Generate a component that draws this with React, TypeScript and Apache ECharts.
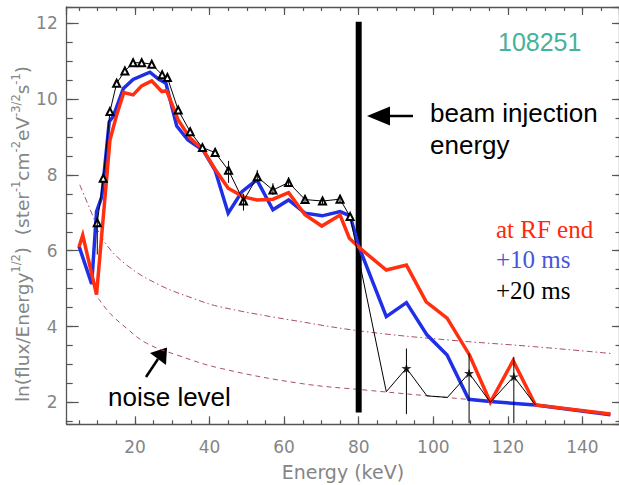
import React, { useEffect, useRef } from 'react';
import * as echarts from 'echarts';

// ---- axis ranges / ticks ----
const X_MIN = 1.7;
const X_MAX = 149.8;
const Y_MIN = 1.42;
const Y_MAX = 12.43;
const X_MAJOR = 20;
const X_MINOR = 5;
const Y_MAJOR = 2;
const Y_MINOR = 0.5;

// ---- at RF end (red) ----
const RED_E = [5.0, 6.0, 9.7, 13.3, 15.1, 17.0, 19.5, 21.8, 24.5, 27.2, 28.5, 31.6, 34.8, 38.3, 41.5, 45.0, 49.1, 52.7, 57.0, 61.2, 65.6, 70.1, 75.0, 77.5, 80.4, 87.4, 92.8, 98.1, 103.7, 109.7, 115.3, 121.4, 127.4, 147.5];
const RED_V = [6.10, 6.41, 4.84, 8.92, 9.58, 10.17, 10.11, 10.35, 10.48, 10.20, 10.22, 9.45, 8.97, 8.66, 8.15, 7.65, 7.42, 7.34, 7.36, 7.53, 6.95, 6.65, 6.94, 6.33, 6.06, 5.49, 5.62, 4.65, 4.22, 3.25, 2.00, 3.10, 1.93, 1.69];

// ---- +10 ms (blue) ----
const BLUE_E = [5.0, 8.4, 9.7, 11.1, 13.1, 14.2, 16.9, 19.5, 24.0, 26.4, 28.3, 31.2, 34.2, 38.3, 41.5, 45.0, 48.7, 52.7, 57.0, 61.2, 65.6, 70.2, 75.0, 77.7, 80.0, 87.4, 92.8, 98.3, 103.7, 109.5, 115.3, 127.4, 147.5];
const BLUE_V = [6.12, 5.12, 7.03, 7.42, 9.40, 9.55, 10.28, 10.52, 10.71, 10.52, 10.42, 9.29, 8.92, 8.65, 8.12, 6.99, 7.56, 7.87, 7.08, 7.34, 6.99, 6.92, 7.03, 6.92, 6.12, 4.26, 4.63, 3.78, 3.25, 2.08, 2.02, 1.93, 1.67];

// ---- +20 ms (black) ----
const BLACK_E = [9.9, 11.5, 13.3, 15.1, 17.3, 19.5, 21.8, 24.5, 27.3, 28.7, 31.6, 34.8, 38.1, 41.5, 45.1, 49.1, 52.8, 57.0, 61.2, 65.6, 70.3, 75.0, 77.7, 87.4, 92.8, 98.3, 103.8, 109.6, 115.3, 121.6, 127.4];
const BLACK_V = [6.74, 7.91, 9.67, 10.42, 10.74, 10.96, 10.96, 10.92, 10.64, 10.57, 9.71, 9.14, 8.72, 8.59, 8.12, 7.31, 7.95, 7.60, 7.80, 7.35, 7.31, 7.36, 6.90, 2.28, 2.90, 2.17, 2.13, 2.77, 2.00, 2.68, 1.93];
const STAR_E = [92.8, 109.6, 121.6];

// ---- error bars on the +20 ms points ----
const ERR_E = [9.9, 45.1, 49.1, 52.8, 57.0, 61.2, 65.6, 70.3, 75.0, 92.8, 109.6, 121.6];
const ERR_LO = [5.9, 7.79, 7.06, 7.82, 7.47, 7.69, 7.26, 7.22, 7.27, 1.69, 1.45, 1.45];
const ERR_HI = [6.9, 8.37, 7.50, 8.13, 7.78, 7.94, 7.44, 7.40, 7.46, 3.42, 3.29, 3.20];

// ---- noise levels ----
const NOISE_UP_E = [5.2, 8.4, 11.5, 17.8, 26.7, 35.7, 42.8, 64.3, 82.2, 104.6, 126.9, 147.5];
const NOISE_UP_V = [7.74, 6.99, 6.28, 5.62, 5.09, 4.74, 4.52, 4.13, 3.86, 3.64, 3.47, 3.29];
const NOISE_LOW_E = [10.2, 13.3, 17.8, 23.1, 31.2, 42.8, 64.3, 82.2, 109.0, 127.4, 147.5];
const NOISE_LOW_V = [4.74, 4.35, 3.95, 3.56, 3.25, 2.90, 2.50, 2.32, 2.08, 1.93, 1.69];

// ---- beam injection energy ----
const BEAM_E = 80;
const BEAM_TOP = 12.04;
const BEAM_BOTTOM = 1.73;

const zip = (a: number[], b: number[]) => a.map((x, i) => [x, b[i]]);

const AXIS_COLOR = '#555';
const LABEL_COLOR = '#858585';
const LABEL_FONT = 'DejaVu Sans';

function xAxisDef(gridIndex: number, position: string, step: number, tickLen: number, labels: boolean, line: boolean) {
  return {
    type: 'value', gridIndex, position, min: X_MIN, max: X_MAX,
    minInterval: step, maxInterval: step, splitNumber: Math.round((X_MAX - X_MIN) / step),
    axisLine: { show: line, onZero: false, lineStyle: { color: AXIS_COLOR, width: 1.3 } },
    axisTick: { show: true, inside: true, length: tickLen, lineStyle: { color: AXIS_COLOR, width: 1.2 } },
    axisLabel: { show: labels, showMinLabel: false, showMaxLabel: false, margin: 14, color: LABEL_COLOR, fontFamily: LABEL_FONT, fontSize: 17 },
    splitLine: { show: false },
    ...(labels ? {
      name: 'Energy (keV)', nameLocation: 'middle', nameGap: 38,
      nameTextStyle: { color: LABEL_COLOR, fontFamily: LABEL_FONT, fontSize: 19 },
    } : {}),
  };
}

function yAxisDef(gridIndex: number, position: string, step: number, tickLen: number, labels: boolean, line: boolean) {
  return {
    type: 'value', gridIndex, position, min: Y_MIN, max: Y_MAX,
    minInterval: step, maxInterval: step, splitNumber: Math.round((Y_MAX - Y_MIN) / step),
    axisLine: { show: line, onZero: false, lineStyle: { color: AXIS_COLOR, width: 1.3 } },
    axisTick: { show: true, inside: true, length: tickLen, lineStyle: { color: AXIS_COLOR, width: 1.2 } },
    axisLabel: { show: labels, showMinLabel: false, showMaxLabel: false, margin: 9, color: LABEL_COLOR, fontFamily: LABEL_FONT, fontSize: 17 },
    splitLine: { show: false },
  };
}

const STAR = 'path://M50,0 L61,35 L98,35 L68,57 L79,91 L50,70 L21,91 L32,57 L2,35 L39,35 Z';

export default function App() {
  const ref = useRef<HTMLDivElement>(null);
  useEffect(() => {
    if (!ref.current) return;
    const chart = echarts.init(ref.current, null, { renderer: 'svg' });
    const gridRect = { left: 66.7, right: 0, top: 7, bottom: 60.7, containLabel: false, outerBoundsMode: 'none' };
    const blackData = zip(BLACK_E, BLACK_V);
    const starData = blackData.filter((p) => STAR_E.includes(p[0]));
    const errData = ERR_E.map((e, i) => [e, ERR_LO[i], ERR_HI[i]]);

    const option: any = {
      animation: false,
      backgroundColor: '#ffffff',
      grid: [gridRect, gridRect],
      xAxis: [
        xAxisDef(0, 'bottom', X_MAJOR, 8, true, true),
        xAxisDef(0, 'top', X_MAJOR, 8, false, true),
        xAxisDef(1, 'bottom', X_MINOR, 4, false, false),
        xAxisDef(1, 'top', X_MINOR, 4, false, false),
      ],
      yAxis: [
        yAxisDef(0, 'left', Y_MAJOR, 12, true, true),
        yAxisDef(0, 'right', Y_MAJOR, 7, false, true),
        yAxisDef(1, 'left', Y_MINOR, 6, false, false),
        yAxisDef(1, 'right', Y_MINOR, 3.5, false, false),
      ],
      series: [
        {
          type: 'line', xAxisIndex: 0, yAxisIndex: 0, data: zip(NOISE_UP_E, NOISE_UP_V), smooth: 0.4,
          symbol: 'none', lineStyle: { color: '#a94f66', width: 1, type: [6, 3, 1.5, 3] }, z: 2,
        },
        {
          type: 'line', xAxisIndex: 0, yAxisIndex: 0, data: zip(NOISE_LOW_E, NOISE_LOW_V), smooth: 0.4,
          symbol: 'none', lineStyle: { color: '#a94f66', width: 1, type: [5, 4] }, z: 2,
        },
        {
          type: 'line', xAxisIndex: 0, yAxisIndex: 0, data: [[BEAM_E, BEAM_TOP], [BEAM_E, BEAM_BOTTOM]],
          symbol: 'none', lineStyle: { color: '#000', width: 6, cap: 'butt' }, z: 3,
        },
        {
          type: 'line', xAxisIndex: 0, yAxisIndex: 0, data: zip(BLUE_E, BLUE_V),
          symbol: 'none', lineStyle: { color: '#1f2fe6', width: 3.5, join: 'miter' }, z: 4,
        },
        {
          type: 'line', xAxisIndex: 0, yAxisIndex: 0, data: zip(RED_E, RED_V),
          symbol: 'none', lineStyle: { color: '#ff2f0f', width: 3.5, join: 'miter' }, z: 5,
        },
        {
          type: 'line', xAxisIndex: 0, yAxisIndex: 0, data: blackData,
          symbol: (v: number[]) => (v[0] < BEAM_E ? 'emptyTriangle' : 'none'), symbolSize: 7,
          itemStyle: { color: '#000', borderColor: '#000', borderWidth: 1 },
          lineStyle: { color: '#000', width: 1 }, z: 6,
        },
        {
          type: 'scatter', xAxisIndex: 0, yAxisIndex: 0, data: starData,
          symbol: STAR, symbolSize: 10, itemStyle: { color: '#000' }, z: 7,
        },
        {
          type: 'custom', xAxisIndex: 0, yAxisIndex: 0, data: errData, z: 7,
          renderItem: (_p: any, api: any) => {
            const a = api.coord([api.value(0), api.value(1)]);
            const b = api.coord([api.value(0), api.value(2)]);
            return {
              type: 'line',
              shape: { x1: a[0], y1: a[1], x2: b[0], y2: b[1] },
              style: { stroke: '#000', lineWidth: 1 },
            };
          },
        },
      ],
      graphic: [
        {
          type: 'text', x: 22, y: 234, rotation: Math.PI / 2,
          style: {
            text: '{m|ln(flux/Energy}{s|1/2}{m|)  (ster}{s|-1}{m|cm}{s|-2}{m|eV}{s|-3/2}{m|s}{s|-1}{m|)}',
            align: 'center', verticalAlign: 'middle',
            rich: {
              m: { fontSize: 18.5, fontFamily: LABEL_FONT, fill: LABEL_COLOR, lineHeight: 24 },
              s: { fontSize: 11.5, fontFamily: LABEL_FONT, fill: LABEL_COLOR, lineHeight: 12, verticalAlign: 'top' },
            },
          },
        },
        {
          type: 'text', x: 498, y: 42,
          style: { text: '108251', fontSize: 25, fontFamily: 'Liberation Sans', fill: '#45b29a', align: 'left', verticalAlign: 'middle' },
        },
        {
          type: 'text', x: 430, y: 113,
          style: { text: 'beam injection', fontSize: 26, fontFamily: 'Liberation Sans', fill: '#000', align: 'left', verticalAlign: 'middle' },
        },
        {
          type: 'text', x: 430, y: 145,
          style: { text: 'energy', fontSize: 26, fontFamily: 'Liberation Sans', fill: '#000', align: 'left', verticalAlign: 'middle' },
        },
        { type: 'line', shape: { x1: 413, y1: 116, x2: 388, y2: 116 }, style: { stroke: '#000', lineWidth: 2.5 } },
        { type: 'polygon', shape: { points: [[367, 116], [390, 106.5], [390, 125.5]] }, style: { fill: '#000' } },
        {
          type: 'text', x: 108, y: 397,
          style: { text: 'noise level', fontSize: 26, fontFamily: 'Liberation Sans', fill: '#000', align: 'left', verticalAlign: 'middle' },
        },
        { type: 'line', shape: { x1: 146, y1: 377, x2: 158, y2: 359 }, style: { stroke: '#000', lineWidth: 2.5 } },
        { type: 'polygon', shape: { points: [[167, 347.5], [150, 353], [166, 365]] }, style: { fill: '#000' } },
        {
          type: 'text', x: 496, y: 229,
          style: { text: 'at RF end', fontSize: 25, fontFamily: 'Liberation Serif', fill: '#ff2a0a', align: 'left', verticalAlign: 'middle' },
        },
        {
          type: 'text', x: 496, y: 259,
          style: { text: '+10 ms', fontSize: 25, fontFamily: 'Liberation Serif', fill: '#4656dc', align: 'left', verticalAlign: 'middle' },
        },
        {
          type: 'text', x: 496, y: 290,
          style: { text: '+20 ms', fontSize: 25, fontFamily: 'Liberation Serif', fill: '#000', align: 'left', verticalAlign: 'middle' },
        },
      ],
    };
    chart.setOption(option);
    return () => chart.dispose();
  }, []);
  return <div ref={ref} style={{ position: 'fixed', left: 0, top: 0, width: 619, height: 485, background: '#fff' }} />;
}
